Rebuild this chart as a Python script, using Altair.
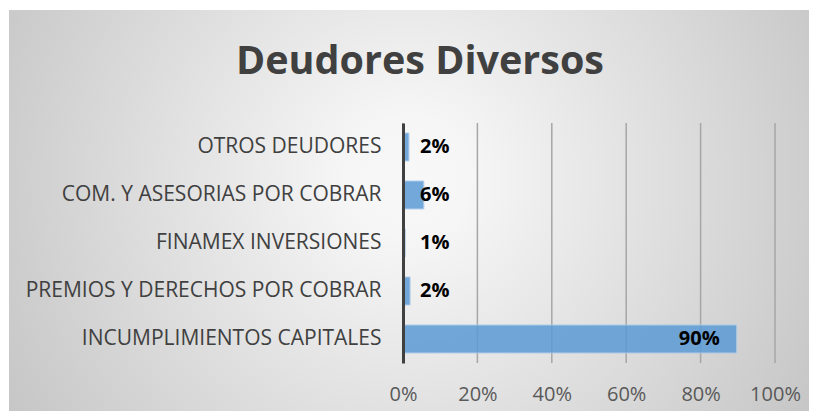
import altair as alt
import pandas as pd

# ---- data ----
categories = [
    "OTROS DEUDORES",
    "COM. Y ASESORIAS POR COBRAR",
    "FINAMEX INVERSIONES",
    "PREMIOS Y DERECHOS POR COBRAR",
    "INCUMPLIMIENTOS CAPITALES",
]
values = [0.016, 0.056, 0.006, 0.019, 0.897]
x_ticks = [0.0, 0.2, 0.4, 0.6, 0.8, 1.0]
title_text = "Deudores Diversos"

df = pd.DataFrame({"cat": categories, "value": values})
ticks_df = pd.DataFrame({"t": x_ticks})

# ---- layout (plot area and padding) ----
W, H = 372, 240
PL, PT = 395, 115
PR = 801 - PL - W
PB = 403 - PT - H

FONT = "Open Sans"

bg_gradient = {
    "gradient": "radial",
    "x1": 0.5, "y1": 0.21, "r1": 0,
    "x2": 0.5, "y2": 0.21, "r2": 0.75,
    "stops": [
        {"offset": 0.0, "color": "#f8f8f8"},
        {"offset": 0.1, "color": "#f6f6f6"},
        {"offset": 0.8, "color": "#c4c4c4"},
        {"offset": 1.0, "color": "#b8b8b8"},
    ],
}

background = alt.Chart(alt.Data(values=[{"k": 1}])).mark_rect(
    fill=bg_gradient, strokeWidth=0
).encode(
    x=alt.value(-PL + 1),
    x2=alt.value(W + PR),
    y=alt.value(-PT + 2),
    y2=alt.value(-PT + 2 + 800),
)

x_scale = alt.Scale(domain=[0, 1], nice=False, zero=True)
y_scale = alt.Scale(domain=categories, paddingInner=0.4167, paddingOuter=0.2083)

y_axis = alt.Axis(
    title=None, ticks=False, grid=False, domain=True,
    domainColor="#404040", domainWidth=3,
    labelFont=FONT, labelFontSize=21, labelColor="#404040",
    labelPadding=22, labelLimit=0, zindex=1,
)
x_axis = alt.Axis(
    title=None, values=x_ticks, format=".0%", ticks=False, domain=False,
    grid=False, labelFont=FONT, labelFontSize=20, labelColor="#595959",
    labelPadding=21, labelFlush=False, labelOverlap=False, zindex=1,
)

grid = alt.Chart(ticks_df).mark_rule(color="#a6a6a6", strokeWidth=1.5).encode(
    x=alt.X("t:Q", scale=x_scale, axis=x_axis)
)

bars = alt.Chart(df).mark_bar(
    color="#5b9bd5", opacity=0.85, stroke="#a9c8ea", strokeWidth=1
).encode(
    x=alt.X("value:Q", scale=x_scale, axis=x_axis),
    y=alt.Y("cat:N", sort=categories, scale=y_scale, axis=y_axis),
)

small_labels = alt.Chart(df).transform_filter("datum.value < 0.5").mark_text(
    align="left", baseline="middle", dx=17,
    font=FONT, fontSize=20, fontWeight="bold", color="#000000",
).encode(
    x=alt.X(datum=0, scale=x_scale, axis=x_axis),
    y=alt.Y("cat:N", sort=categories, scale=y_scale, axis=y_axis),
    text=alt.Text("value:Q", format=".0%"),
)

big_labels = alt.Chart(df).transform_filter("datum.value >= 0.5").mark_text(
    align="right", baseline="middle", dx=-17,
    font=FONT, fontSize=20, fontWeight="bold", color="#000000",
).encode(
    x=alt.X("value:Q", scale=x_scale, axis=x_axis),
    y=alt.Y("cat:N", sort=categories, scale=y_scale, axis=y_axis),
    text=alt.Text("value:Q", format=".0%"),
)

chart = alt.layer(background, grid, bars, small_labels, big_labels).properties(
    width=W,
    height=H,
    padding={"left": PL, "top": PT, "right": PR, "bottom": PB},
    autosize=alt.AutoSizeParams(type="none"),
    background="#ffffff",
    title=alt.TitleParams(
        title_text, font=FONT, fontSize=39.5, fontWeight="bold",
        color="#404040", anchor="middle", frame="group",
        dx=-169, offset=-103, baseline="alphabetic",
    ),
).configure_view(stroke=None)

chart.save("out.html", embed_options={"renderer": "svg", "actions": False})
